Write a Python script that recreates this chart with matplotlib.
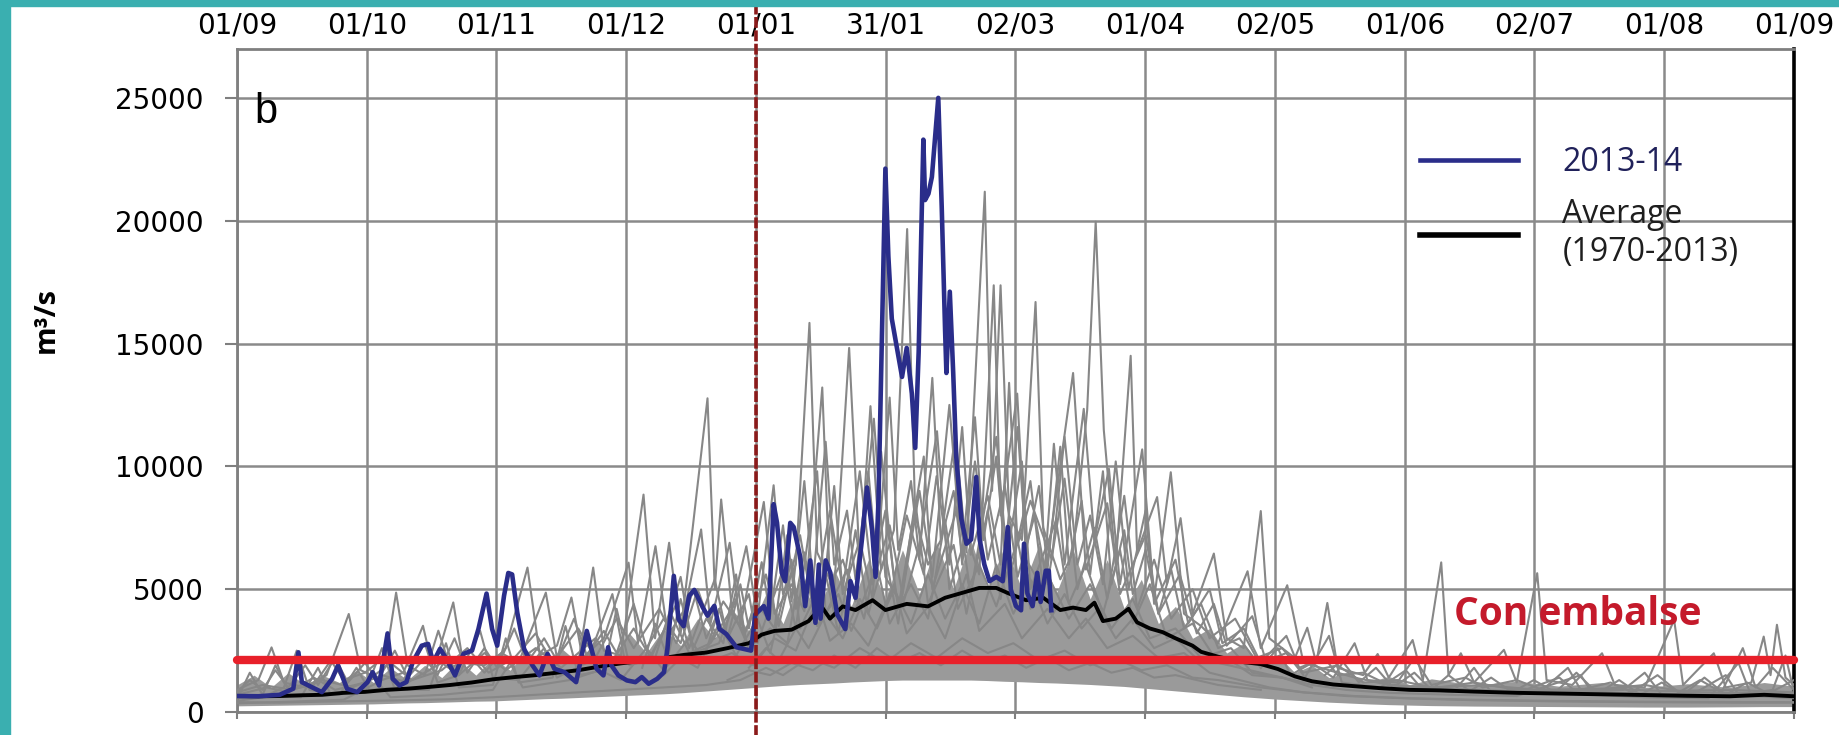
import matplotlib.pyplot as plt
from matplotlib.patches import Rectangle

# Daily river flow, hydrological year 01/09 -> 01/09 (x = day of the year, 0..365)

month_labels = ['01/09', '01/10', '01/11', '01/12', '01/01', '31/01', '02/03',
                '01/04', '02/05', '01/06', '02/07', '01/08', '01/09']
y_ticks = [0, 5000, 10000, 15000, 20000, 25000]
new_year_day = 121.67      # 01/01 marker
reservoir_flow = 2100      # "Con embalse" level, m3/s

# -------------------------------
# 2013-14 (day, m3/s)
# -------------------------------
flow_2013_14 = [(0, 650), (5, 640), (10, 700), (13.2, 950), (14.4, 2430), (15.2, 1216), (17.5, 1013),
                (19.9, 810), (22.3, 1350), (23.7, 1900), (25.8, 945), (28.2, 810), (30.6, 1216),
                (31.8, 1620), (33.3, 1080), (35.3, 3200), (36.5, 1350), (38.1, 1080), (39.7, 1216),
                (41.2, 2030), (43.3, 2700), (44.8, 2770), (46.0, 2030), (47.6, 2570), (49.1, 2160),
                (51.1, 1490), (53.1, 2365), (55.1, 2500), (56.6, 3380), (58.5, 4820), (59.8, 3380),
                (61.0, 2700), (62.6, 4730), (63.6, 5660), (64.5, 5600), (65.7, 4050), (67.3, 2570),
                (69.3, 1890), (70.9, 1490), (72.8, 2365), (74.4, 1760), (76.8, 1620), (79.5, 1216),
                (82.0, 3300), (83.1, 2570), (84.3, 1760), (85.9, 1490), (87.0, 2635), (87.8, 1890),
                (89.4, 1490), (91.4, 1285), (93.4, 1216), (94.9, 1420), (96.5, 1150), (98.5, 1350),
                (100.1, 1620), (100.9, 2570), (102.4, 5540), (103.5, 3780), (104.7, 3495), (106.0, 4730),
                (107.2, 4970), (109.2, 4255), (110.3, 3920), (111.9, 4320), (113.1, 3380), (114.7, 3175),
                (117.1, 2635), (119.2, 2550), (120.5, 2500), (121.5, 3970), (123.5, 4310), (124.6, 3800),
                (125.8, 8460), (126.6, 7700), (127.7, 5665), (128.5, 5325), (129.7, 7700), (130.5, 7530),
                (132.0, 6340), (133.2, 4310), (134.4, 6170), (135.6, 3630), (136.4, 6000), (136.8, 3800),
                (138.0, 6170), (139.1, 5665), (140.7, 3970), (142.6, 3375), (143.8, 5325), (145.0, 4650),
                (146.5, 7020), (147.7, 9140), (148.9, 7360), (149.7, 5500), (150.4, 8720), (151.2, 15500),
                (152.0, 22120), (152.7, 18550), (153.5, 16010), (154.7, 14820), (155.9, 13640),
                (157.0, 14820), (158.2, 12960), (159.0, 10750), (159.8, 14650), (160.9, 23300),
                (161.3, 20840), (162.1, 21100), (162.9, 21780), (164.4, 25000), (165.2, 20590),
                (166.0, 15500), (166.3, 13800), (167.1, 17110), (167.9, 13800), (168.6, 10410),
                (169.8, 7870), (171.0, 6850), (172.1, 7020), (173.3, 9565), (174.1, 7020), (175.2, 6000),
                (176.4, 5325), (178.0, 5500), (179.5, 5325), (180.7, 7530), (181.4, 4990), (182.6, 4310),
                (183.8, 4140), (184.5, 6850), (185.3, 4820), (186.5, 4310), (187.6, 5665), (188.4, 4480),
                (189.6, 5750), (190.3, 5750), (190.9, 4140)]

# -------------------------------
# Average 1970-2013 (day, m3/s)
# -------------------------------
flow_average = [(0, 650), (5, 640), (10, 650), (15, 680), (20, 700), (25, 780), (30, 820), (35, 900),
                (40, 950), (45, 1020), (50, 1100), (55, 1200), (60, 1330), (65, 1420), (70, 1500),
                (75, 1600), (80, 1700), (85, 1850), (90, 1980), (95, 2080), (100, 2200), (105, 2330),
                (110, 2420), (115, 2600), (120, 2800), (123, 3150), (126, 3300), (130, 3350),
                (134, 3700), (137, 4300), (139, 3800), (142, 4300), (145, 4150), (149, 4550),
                (152, 4150), (157, 4400), (162, 4300), (166, 4650), (170, 4850), (174, 5050),
                (178, 5050), (181, 4820), (185, 4550), (189, 4650), (193, 4150), (196, 4250),
                (199, 4150), (201, 4450), (203, 3700), (206, 3800), (209, 4200), (211, 3650),
                (214, 3400), (217, 3250), (220, 3000), (224, 2700), (226, 2450), (230, 2250),
                (235, 2050), (240, 1950), (244, 1750), (248, 1450), (252, 1250), (257, 1120),
                (262, 1050), (268, 970), (275, 900), (282, 880), (290, 830), (300, 780), (310, 750),
                (320, 720), (330, 690), (340, 660), (350, 640), (358, 700), (365, 640)]

# -------------------------------
# Single years 1970-2013 (grey spaghetti)
# -------------------------------
# dense core of the 44 years
band_days = [0, 4, 8, 12, 16, 20, 24, 28, 32, 36, 40, 44, 48, 52, 56, 60, 64, 68, 72, 76, 80, 84, 88,
             92, 96, 100, 104, 108, 112, 116, 120, 124, 128, 132, 136, 140, 144, 148, 152, 156, 160,
             164, 168, 172, 176, 180, 184, 188, 192, 196, 200, 204, 208, 212, 216, 220, 224, 228, 232,
             236, 240, 244, 248, 252, 256, 260, 265, 270, 275, 280, 290, 300, 310, 320, 330, 340, 350,
             358, 365]
band_high = [1100, 1500, 1000, 1600, 1100, 1500, 1200, 1700, 1200, 1800, 1300, 1900, 1400, 2100, 1500,
             2200, 1700, 2500, 1900, 2600, 2000, 2900, 2200, 3200, 2400, 3400, 2700, 3800, 3000, 4200,
             3300, 4800, 3600, 5400, 4000, 5800, 4300, 6200, 4600, 6600, 4800, 6900, 5000, 7000, 5000,
             6800, 5000, 6800, 4800, 6600, 4600, 6200, 4200, 5400, 3600, 4300, 3000, 3400, 2400, 2800,
             1900, 2300, 1600, 1900, 1400, 1600, 1200, 1450, 1100, 1350, 1100, 1250, 1050, 1200, 1000,
             1150, 1000, 1200, 1050]
band_low = [250, 260, 270, 280, 290, 300, 310, 320, 330, 350, 370, 380, 400, 420, 440, 450, 480, 510,
            540, 560, 590, 620, 650, 680, 710, 740, 780, 830, 880, 930, 980, 1030, 1080, 1120, 1150,
            1180, 1220, 1250, 1280, 1300, 1300, 1300, 1300, 1300, 1280, 1250, 1230, 1200, 1180, 1150,
            1120, 1080, 1040, 980, 920, 860, 800, 740, 680, 620, 570, 520, 480, 440, 400, 370, 330, 300,
            280, 260, 240, 230, 220, 210, 200, 200, 210, 220, 220]

year_1 = [(0, 550), (6, 700), (9, 1900), (12, 900), (18, 1100), (22, 2100), (25, 1300), (30, 1600),
          (35, 2300), (37.3, 4860), (40, 1900), (44, 1500), (47.2, 3310), (50, 1800), (55, 2200),
          (58, 1600), (63, 2600), (68.1, 5880), (71, 2300), (75, 2700), (78.4, 4660), (81, 2200),
          (86, 3000), (91.8, 6080), (94, 2800), (98.1, 6750), (101, 3100), (105, 4200), (108.8, 7430),
          (111, 3600), (115.5, 6890), (118, 3500), (123.5, 8550), (126, 4000), (130, 5200), (133, 4100),
          (137.2, 13210), (139, 5200), (142, 6200), (145, 4500), (149.3, 11940), (152, 5500),
          (156, 4300), (160, 6800), (164.1, 11430), (167, 5000), (171, 7200), (174, 5600),
          (177.4, 17370), (179, 8000), (182.9, 12960), (185, 6200), (189, 5000), (191.5, 10920),
          (194, 6000), (198.5, 12340), (201, 7000), (204.4, 9900), (207, 5200), (212.2, 10690),
          (215, 4600), (218.9, 9760), (222, 4000), (226, 3500), (230, 2800), (236.9, 5730), (240, 2600),
          (246.2, 5160), (250, 2000), (256, 1700), (262, 1400), (270, 1100), (280, 1000), (290, 900),
          (300, 850), (315, 800), (330, 750), (345, 700), (365, 680)]
year_2 = [(0, 900), (5, 1300), (8.1, 2630), (11, 1200), (16, 1000), (21, 1500), (26.2, 3990), (29, 1700),
          (34, 1300), (39, 1600), (43.6, 3510), (46, 1700), (50.7, 4460), (53, 2000), (58, 1900),
          (62, 2400), (66, 2000), (72.4, 4860), (75, 2200), (80, 2000), (83.5, 5880), (86, 2500),
          (90, 2300), (95.3, 8850), (98, 3000), (101.3, 6890), (104, 3200), (110.3, 12770), (112, 5000),
          (113.5, 8650), (116, 4200), (119.4, 6750), (122, 3800), (125.8, 9230), (128, 4800), (131, 6000),
          (134.2, 15840), (136, 6500), (140, 5000), (143.5, 14820), (146, 6000), (148.5, 12450),
          (151, 5800), (154, 7400), (157.1, 19660), (159, 8000), (162, 6000), (165, 7000),
          (168.4, 11260), (171, 6500), (175.3, 21180), (177, 9000), (179, 17370), (181, 8000),
          (184, 7000), (187.2, 16690), (189, 7500), (193, 5400), (196, 6500), (199.3, 12280),
          (201.3, 19960), (203.2, 11480), (206, 6000), (209.5, 14500), (211, 6500), (215.7, 8750),
          (218, 5200), (221.2, 7890), (224, 4000), (229, 6450), (232, 3000), (236, 2600), (240, 8180),
          (242, 3000), (248, 2200), (250.9, 3430), (253, 2000), (255.6, 4440), (258, 1800), (264, 1500),
          (267.4, 2360), (270, 1400), (275.6, 2930), (278, 1300), (282.3, 6090), (284, 1500),
          (286.9, 2390), (290, 1200), (297, 2530), (300, 1200), (304.8, 5650), (307, 1300), (313, 1100),
          (320, 2390), (323, 1100), (330, 1000), (336.9, 3750), (339, 1100), (346.2, 2390), (349, 1000),
          (355, 1200), (357.9, 3070), (359.5, 1500), (361, 3550), (363, 1400), (365, 1100)]
year_3 = [(0, 400), (10, 380), (20, 420), (30, 450), (40, 480), (50, 520), (60, 600), (70, 700),
          (80, 800), (90, 900), (100, 1000), (110, 1100), (118, 1300), (124, 1800), (128, 1500),
          (134, 2200), (140, 1800), (146, 2600), (152, 2000), (158, 2800), (164, 2200), (170, 3000),
          (176, 2400), (182, 2800), (188, 2100), (194, 2500), (200, 1900), (206, 2200), (212, 1700),
          (218, 1900), (224, 1400), (230, 1300), (240, 1000), (250, 800), (260, 650), (275, 550),
          (290, 480), (310, 430), (330, 400), (350, 380), (365, 380)]
year_4 = [(0, 700), (7, 1000), (12, 800), (18, 1400), (23, 900), (30, 1200), (36, 2000), (41, 1300),
          (48, 1700), (54, 2600), (59, 1600), (65, 2200), (70, 3200), (74, 2000), (80, 3400), (84, 2200),
          (89, 3800), (93, 2600), (99, 4200), (103, 2800), (107, 5000), (110, 3000), (114, 4500),
          (119, 3200), (124, 5600), (127, 3500), (132, 7200), (135, 4200), (139, 8200), (142, 5000),
          (146, 9800), (149, 5200), (153, 7600), (156, 4800), (160, 9000), (163, 5500), (167, 12500),
          (170, 6000), (173, 10200), (176, 6200), (180, 9200), (183, 5500), (187, 8000), (190, 5200),
          (194, 9500), (197, 5000), (201, 7500), (204, 4600), (208, 8800), (211, 4200), (215, 6200),
          (219, 3800), (224, 5000), (228, 3000), (234, 3800), (239, 2200), (245, 2600), (250, 1600),
          (258, 1900), (264, 1200), (272, 1300), (280, 1000), (292, 1100), (305, 900), (320, 950),
          (335, 850), (350, 900), (365, 800)]
year_5 = [(0, 450), (6, 600), (11, 1000), (14, 2500), (17, 900), (24, 700), (28, 1800), (31, 900),
          (38, 1000), (44, 2800), (47, 1200), (52, 1500), (57, 3300), (60, 1400), (66, 1300), (72, 2600),
          (75, 1400), (82, 2000), (88, 4800), (91, 2000), (97, 2300), (102, 3900), (106, 2400),
          (111, 2800), (116, 4200), (120, 2600), (125, 3400), (129, 2800), (133, 6500), (136, 3500),
          (141, 4800), (144, 3300), (150, 6000), (153, 3600), (158, 5200), (162, 3800), (166, 7800),
          (169, 4200), (174, 6000), (178, 4300), (183, 7000), (186, 4200), (190, 5600), (195, 3800),
          (200, 5200), (205, 3400), (210, 4600), (214, 3000), (220, 3400), (226, 2200), (233, 2600),
          (238, 1600), (245, 1400), (252, 1100), (260, 900), (270, 780), (285, 700), (300, 650),
          (315, 1500), (318, 700), (330, 600), (345, 560), (352, 2000), (355, 650), (365, 560)]
year_6 = [(0, 350), (12, 420), (25, 500), (33, 1200), (36, 600), (48, 700), (60, 900), (64, 2000),
          (67, 1000), (78, 1300), (85, 1700), (90, 1300), (96, 2600), (100, 1700), (106, 3000),
          (110, 2000), (116, 2400), (121, 1900), (126, 3000), (131, 2500), (136, 4600), (139, 2900),
          (144, 3600), (148, 2700), (154, 5200), (157, 3200), (162, 4300), (166, 3000), (171, 5600),
          (174, 3300), (180, 4400), (184, 3000), (190, 4200), (195, 3000), (199, 3800), (204, 2600),
          (210, 3100), (216, 2200), (222, 2400), (228, 1600), (235, 1300), (242, 1000), (250, 800),
          (262, 650), (275, 560), (290, 500), (310, 450), (330, 420), (365, 400)]
year_7 = [(0, 800), (6, 1100), (13, 900), (20, 1300), (27, 1000), (34, 1500), (40, 1200), (48, 2000),
          (52, 1500), (58, 2400), (63, 1700), (70, 2600), (76, 1800), (84, 3000), (88, 2100), (93, 3400),
          (97, 2200), (103, 4400), (106, 2600), (112, 5400), (115, 3000), (120, 4800), (122, 2800),
          (128, 5800), (131, 3400), (136, 9800), (138, 4000), (143, 5800), (147, 3800), (152, 8200),
          (155, 4200), (161, 10400), (163, 5000), (169, 8400), (172, 4800), (178, 11200), (181, 5300),
          (186, 9400), (189, 5000), (196, 13800), (199, 5800), (204, 8500), (207, 4800), (213, 7200),
          (216, 4000), (221, 5600), (225, 3200), (229, 4400), (232, 2700), (238, 3900), (241, 2200),
          (246, 3100), (249, 1800), (255, 2200), (258, 1500), (264, 1600), (270, 1100), (280, 950),
          (290, 1200), (300, 900), (315, 850), (330, 1100), (340, 800), (365, 750)]
year_8 = [(100, 1500), (104, 2200), (108, 1800), (113, 3600), (117, 2300), (122, 3800), (125, 2400),
          (130, 6200), (132, 3400), (138, 5600), (141, 3200), (145, 7400), (148, 4000), (152, 6400),
          (155, 3600), (159, 8600), (162, 4400), (168, 6800), (171, 4000), (176, 8200), (179, 4600),
          (184, 10200), (186, 5000), (192, 7800), (195, 4400), (199, 6000), (203, 4000), (207, 6600),
          (210, 3600), (214, 5200), (218, 3000), (224, 3600), (230, 2000), (240, 1600), (250, 1200)]
year_9 = [(240, 1800), (244, 2600), (247, 1500), (252, 2000), (257, 1400), (262, 2800), (265, 1300),
          (272, 1200), (276, 2200), (280, 1100), (288, 1400), (292, 1000), (300, 1300), (306, 900),
          (312, 1800), (315, 900), (322, 1200), (327, 800), (333, 1500), (338, 800), (343, 1300),
          (348, 800), (353, 2600), (356, 1000), (360, 1800), (365, 900)]
year_10 = [(250, 1300), (256, 3100), (259, 1200), (268, 1000), (274, 1700), (278, 900), (285, 800),
           (290, 1800), (294, 800), (302, 900), (310, 1400), (314, 800), (325, 900), (330, 1600),
           (334, 700), (342, 800), (349, 1500), (352, 700), (360, 900), (363, 2300), (365, 800)]
year_11 = [(0, 500), (3, 1600), (6, 700), (15, 600), (19, 1800), (22, 700), (30, 800), (34, 2600),
           (37, 900), (45, 900), (49, 2800), (52, 1000), (60, 1100), (63, 3000), (66, 1200), (74, 1400),
           (77, 3500), (80, 1500), (86, 1700), (89, 4200), (92, 1900), (98, 2200), (104, 5500),
           (107, 2400), (113, 2800), (117, 4600), (120, 2500)]
year_12 = [(110, 2500), (113, 4200), (115, 3000), (118, 5200), (120, 3400), (123, 6100), (125, 3900),
           (128, 7600), (130, 4500), (133, 9400), (135, 5200), (138, 11000), (140, 6000), (143, 8200),
           (145, 5400), (148, 9800), (150, 6000), (153, 12800), (155, 6600), (158, 9400), (160, 6200),
           (163, 13600), (165, 7000), (168, 9000), (170, 6400), (173, 12000), (175, 7000), (178, 10400),
           (180, 6400), (183, 11600), (185, 6600), (188, 9200), (190, 5800), (193, 10800), (195, 6000),
           (198, 8600), (200, 5600), (203, 9800), (205, 5200), (208, 7400), (210, 4800), (213, 6600),
           (216, 4000), (219, 5800), (222, 3400), (226, 4400), (230, 2600), (235, 3000), (240, 1800)]
year_13 = [(95, 1800), (98, 3600), (101, 2200), (104, 4600), (107, 2600), (110, 3800), (114, 2800),
           (117, 5600), (119, 3200), (122, 4400), (126, 3400), (129, 7200), (131, 4200), (134, 5600),
           (137, 4000), (140, 9200), (142, 4800), (146, 7000), (149, 4600), (151, 10600), (154, 5400),
           (157, 8000), (161, 5600), (164, 9600), (167, 6000), (170, 11600), (172, 6400), (176, 8800),
           (179, 6000), (181, 13400), (183, 6800), (186, 8600), (191, 6200), (194, 11200), (197, 6000),
           (200, 8000), (203, 5200), (206, 10200), (209, 5000), (213, 8200), (215, 4400), (220, 6200),
           (223, 3600), (228, 5000), (231, 2800), (236, 3400), (240, 2000), (246, 2400), (250, 1500)]
year_14 = [(120, 1800), (124, 2600), (127, 2100), (131, 3400), (134, 2600), (138, 4000), (142, 3000),
           (146, 4600), (150, 3400), (154, 5000), (158, 3600), (162, 5600), (166, 3800), (170, 5200),
           (174, 3600), (178, 6000), (182, 4000), (186, 5400), (190, 3600), (194, 4800), (198, 3400),
           (202, 4200), (206, 3000), (210, 3800), (215, 2600), (220, 3000), (226, 2000), (232, 2200),
           (238, 1500), (245, 1400), (252, 1000)]
year_15 = [(115, 1300), (120, 1700), (125, 1500), (130, 2000), (135, 1700), (140, 2300), (145, 1800),
           (150, 2600), (155, 2000), (160, 2400), (165, 1900), (170, 2500), (175, 2000), (180, 2300),
           (185, 1800), (190, 2200), (195, 1700), (200, 2000), (205, 1600), (210, 1800), (215, 1400),
           (220, 1500), (230, 1100), (240, 900)]
year_16 = [(0, 800), (3, 1300), (6, 900), (9, 1700), (12, 1000), (16, 1900), (19, 1100), (23, 2200),
           (26, 1200), (30, 2000), (33, 1300), (37, 2500), (40, 1400), (44, 2200), (47, 1500), (51, 3000),
           (54, 1600), (58, 2600), (61, 1800), (65, 3400), (68, 2000), (72, 3000), (75, 2100), (79, 3800),
           (82, 2300), (86, 3300), (89, 2400), (93, 4400), (96, 2600), (100, 3800), (104, 2800),
           (108, 5000), (112, 3000)]
year_17 = [(255, 1500), (259, 2100), (263, 1200), (267, 1800), (271, 1000), (276, 1600), (280, 900),
           (284, 1500), (289, 850), (294, 1400), (299, 800), (304, 1300), (309, 800), (314, 1600),
           (319, 750), (324, 1300), (329, 700), (334, 1200), (339, 700), (344, 1400), (349, 700),
           (354, 1200), (359, 750), (365, 1300)]

single_years = [year_1, year_2, year_3, year_4, year_5, year_6, year_7, year_8, year_9, year_10,
                year_11, year_12, year_13, year_14, year_15, year_16, year_17]

# -------------------------------
# Figure
# -------------------------------
fig = plt.figure(figsize=(18.4, 7.35), dpi=100)
fig.patches.append(Rectangle((0, 0), 10 / 1840, 1, transform=fig.transFigure, color='#3aafb0', zorder=0))
fig.patches.append(Rectangle((0, 1 - 6 / 735), 1, 6 / 735, transform=fig.transFigure, color='#3aafb0', zorder=0))

ax = fig.add_axes([0.1288, 0.0313, 0.8462, 0.9024])
ax.set_axisbelow(True)

ax.fill_between(band_days, band_low, band_high, color='#9a9a9a', lw=0, zorder=2)
for yr in single_years:
    d, v = zip(*yr)
    ax.plot(d, v, color='#878787', lw=1.5, zorder=3)

d, v = zip(*flow_average)
ax.plot(d, v, color='black', lw=2.8, zorder=5, label='Average\n(1970-2013)')
d, v = zip(*flow_2013_14)
ax.plot(d, v, color='#2a2d8a', lw=3.3, zorder=6, label='2013-14')

ax.plot([0, 365], [reservoir_flow, reservoir_flow], color='#e8202a', lw=6,
        solid_capstyle='round', clip_on=False, zorder=7)
ax.axvline(new_year_day, ymin=-0.04, ymax=1.065, color='#8b1a1a', lw=2.6,
           dashes=(3, 0.7), clip_on=False, zorder=8)

ax.text(285.2, 3545, 'Con embalse', color='#c41a2b', fontweight='bold', family='Open Sans',
        fontsize=28, va='baseline', zorder=9)
ax.text(0.011, 0.905, 'b', transform=ax.transAxes, family='Liberation Sans', fontsize=30, va='center')

# axes
ax.set_xlim(0, 365)
ax.set_ylim(0, 27000)
ax.set_xticks([i * 365 / 12 for i in range(13)])
ax.set_xticklabels(month_labels)
ax.set_yticks(y_ticks)
ax.tick_params(axis='x', bottom=True, top=False, labelbottom=False, labeltop=True,
               length=5, width=1.5, color='#7f7f7f', pad=2, labelsize=20)
ax.tick_params(axis='y', length=9, width=1.5, color='#7f7f7f', pad=15, labelsize=20)
ax.grid(True, color='#8a8a8a', lw=1.8)
for s in ['left', 'top', 'bottom']:
    ax.spines[s].set_color('#7f7f7f')
    ax.spines[s].set_linewidth(2)
ax.spines['right'].set_color('black')
ax.spines['right'].set_linewidth(2.6)

fig.text(46 / 1840, 1 - 320 / 735, 'm³/s', rotation=90, ha='center', va='center',
         family='Open Sans', fontweight='bold', fontsize=21)

# legend: 2013-14 first
h, l = ax.get_legend_handles_labels()
leg = ax.legend(h[::-1], l[::-1], loc='upper left', bbox_to_anchor=(1420 / 1840, 1 - 146 / 735),
                bbox_transform=fig.transFigure, frameon=False, borderpad=0, borderaxespad=0,
                handlelength=3.06, handletextpad=1.4, labelspacing=0.6,
                prop={'family': 'Open Sans', 'size': 23})
leg.get_texts()[0].set_color('#20215a')
leg.get_texts()[1].set_color('#1e1e1e')
leg.get_lines()[1].set_linewidth(4)

fig.savefig('out.png', dpi=100)
